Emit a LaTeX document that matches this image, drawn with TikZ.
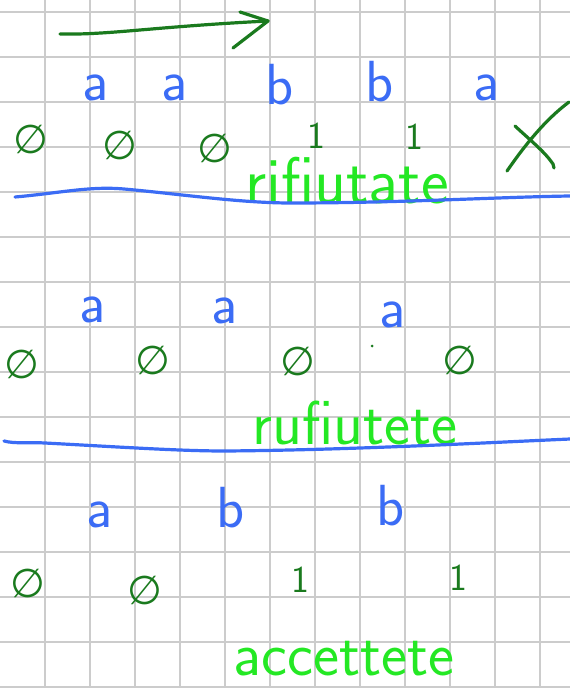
\documentclass[tikz,border=0pt]{standalone}
\usepackage{fontspec}
\newfontfamily\nulfont{DejaVu Sans}
\usetikzlibrary{positioning}
\definecolor{penblue}{RGB}{59,108,245}
\definecolor{pengreen}{RGB}{26,122,30}
\definecolor{hilite}{RGB}{36,232,36}
\definecolor{gridgray}{RGB}{204,204,204}

\begin{document}
\begin{tikzpicture}[
  x=1pt, y=-1pt,
  gridline/.style={draw=gridgray, line width=1.6pt},
  pen/.style={line width=3.2pt, line cap=round, line join=round},
  sym/.style={inner sep=0pt, anchor=base, text=penblue, font=\sffamily\fontsize{58}{58}\selectfont},
  outc/.style={inner sep=0pt, text=pengreen, font=\sffamily\fontsize{38}{38}\selectfont},
  nul/.style={outc, font=\nulfont\fontsize{40}{40}\selectfont},
  word/.style={inner sep=0pt, anchor=base, text=hilite, font=\sffamily\fontsize{62}{62}\selectfont}
]
\useasboundingbox (0,0) rectangle (570,688);
% ---------- squared paper ----------
\foreach \gx in {45,90,...,540} \draw[gridline] (\gx,0) -- (\gx,688);
\foreach \gy in {12,57,...,687} \draw[gridline] (0,\gy) -- (570,\gy);
% ---------- reading direction ----------
\coordinate (start) at (60,34);
\coordinate (tip) at (268,21);
\coordinate (barbup) at (240,12);
\coordinate (barbdn) at (233,48);
\draw[pen, pengreen] (start) .. controls (110,35) and (150,27) .. (tip);
\draw[pen, pengreen] (barbup) -- (tip) -- (barbdn);
% ---------- Row 1: a a b b a ----------
\node[sym] (a1) at (96,100) {a};
\node[sym] (a2) at (175,100) {a};
\node[sym] (b1) at (280,104) {b};
\node[sym] (b2) at (380,101) {b};
\node[sym] (a3) at (487,100) {a};
\node[nul] (o1) at (31,139) {∅};
\node[nul] (o2) at (120,145) {∅};
\node[nul] (o3) at (215,148) {∅};
\node[outc] (o4) at (316,136) {1};
\node[outc] (o5) at (414,137) {1};
\draw[pen, pengreen] (507,171) .. controls (525,145) and (545,120) .. (569,102);
\draw[pen, pengreen] (515,126) .. controls (530,140) and (545,152) .. (553,164) -- (554,168);
\node[word, font=\sffamily\fontsize{66}{66}\selectfont] (rif1) at (347,203) {rifiutate};
\draw[pen, penblue] (15,197) .. controls (60,193) and (90,186) .. (124,189)
  .. controls (180,194) and (240,203) .. (291,203) .. controls (400,203) and (500,197) .. (570,196);
% ---------- Row 2: a a a ----------
\node[sym] (a4) at (93,322) {a};
\node[sym] (a5) at (225,323) {a};
\node[sym] (a6) at (393,327) {a};
\node[nul] (p1) at (22,364) {∅};
\node[nul] (p2) at (153,360) {∅};
\node[nul] (p3) at (298,361) {∅};
\node[nul] (p4) at (460,360) {∅};
\fill[pengreen] (372,346) circle (1.5);
\node[word] (rif2) at (355,444) {rufiutete};
\draw[pen, penblue] (4,441) .. controls (15,444) and (30,442) .. (45,443)
  .. controls (120,447) and (180,451) .. (225,451) .. controls (350,450) and (480,443) .. (570,439);
% ---------- Row 3: a b b ----------
\node[sym] (a7) at (100,527) {a};
\node[sym] (b3) at (231,527) {b};
\node[sym] (b4) at (391,525) {b};
\node[nul] (q1) at (28,583) {∅};
\node[nul] (q2) at (145,590) {∅};
\node[outc] (q3) at (300,580) {1};
\node[outc] (q4) at (458,578) {1};
\node[word] (acc) at (344,675) {accettete};
\end{tikzpicture}
\end{document}
